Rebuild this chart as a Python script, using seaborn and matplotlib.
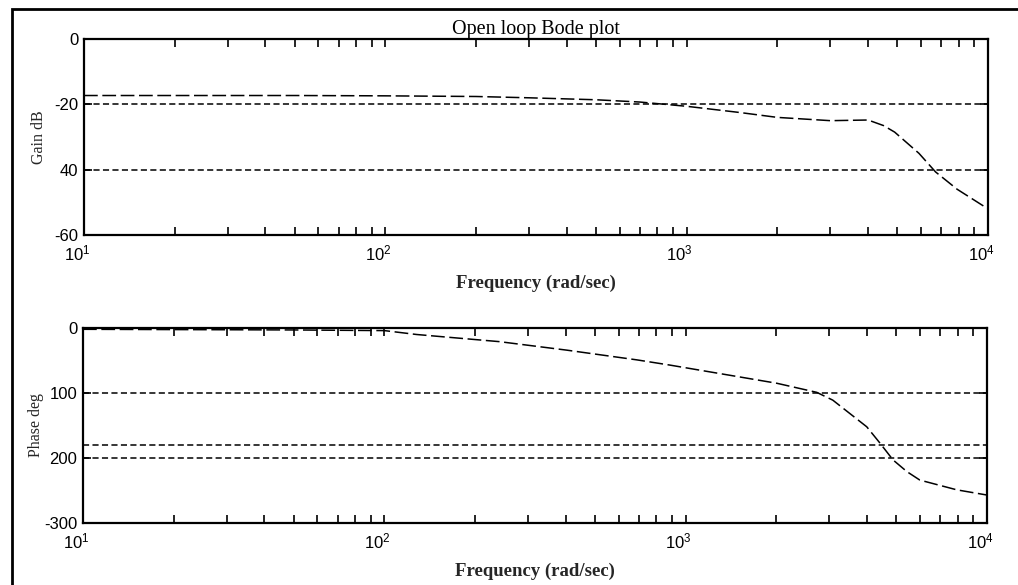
import numpy as np
import pandas as pd
import matplotlib
matplotlib.use("Agg")
import matplotlib.pyplot as plt
import seaborn as sns
from matplotlib.ticker import LogLocator, NullFormatter, FixedLocator
from matplotlib.patches import Rectangle
from matplotlib.transforms import ScaledTranslation

# Open-loop gain response (rad/sec, dB)
gain_freq = [10, 50, 100, 200, 300, 500, 700, 1000, 1500, 2000, 3000,
             4000, 4500, 4900, 5900, 6700, 7900, 10000]
gain_db = [-17.3, -17.3, -17.4, -17.6, -18.0, -18.6, -19.3, -20.6, -22.5,
           -24.0, -25.0, -24.8, -26.5, -28.5, -35.0, -40.7, -46.0, -52.0]

# Open-loop phase response (rad/sec, degrees)
phase_freq = [10, 50, 100, 128, 161, 241, 402, 688, 885, 2006, 2723, 3078,
              3990, 4412, 4878, 5424, 5987, 7943, 10000]
phase_deg = [-2, -3, -4, -10, -14, -21, -34, -49, -57, -85, -99, -111,
             -152, -177, -203, -221, -234, -249, -257]

# Dashed reference levels
gain_levels = [-20, -40]
phase_levels = [-100, -180, -200]

# Axis ticks and labels
gain_ticks = [0, -20, -40, -60]
gain_ticklabels = ["0", "-20", "40", "-60"]
phase_ticks = [0, -100, -200, -300]
phase_ticklabels = ["0", "100", "200", "-300"]
decade_ticks = [10, 100, 1000, 10000]
decade_labels = [r"$10^1$", r"$10^2$", r"$10^3$", r"$10^4$"]

title_text = "Open loop Bode plot"
x_label = "Frequency (rad/sec)"
gain_label = "Gain dB"
phase_label = "Phase deg"

sns.set_theme(style="white")
plt.rcParams["font.family"] = ["Liberation Sans", "DejaVu Sans"]
plt.rcParams["mathtext.fontset"] = "custom"
plt.rcParams["mathtext.rm"] = "Liberation Sans"
plt.rcParams["mathtext.it"] = "Liberation Sans"

W, H = 1018, 585
fig = plt.figure(figsize=(W / 100, H / 100), dpi=100)
fig.patch.set_facecolor("white")

# Outer frame
fig.patches.append(Rectangle((12 / W, -0.05), 1.2, 1 - 9 / H + 0.05,
                             transform=fig.transFigure, fill=False,
                             edgecolor="black", linewidth=2.0))

ax1 = fig.add_axes([84 / W, 1 - 235 / H, 904 / W, 196 / H])
ax2 = fig.add_axes([83 / W, 1 - 523 / H, 904 / W, 195 / H])

gain_df = pd.DataFrame({"freq": gain_freq, "gain": gain_db})
phase_df = pd.DataFrame({"freq": phase_freq, "phase": phase_deg})

serif = ["Liberation Serif", "DejaVu Serif"]
dash_ref = (4, 2.2)


def style_axes(ax, ticks, ticklabels, ylim):
    ax.set_xscale("log")
    ax.set_xlim(10, 10000)
    ax.set_ylim(*ylim)
    ax.xaxis.set_major_locator(FixedLocator(decade_ticks))
    ax.set_xticklabels(decade_labels)
    ax.xaxis.set_minor_locator(LogLocator(base=10, subs=np.arange(2, 10)))
    ax.xaxis.set_minor_formatter(NullFormatter())
    ax.set_yticks(ticks)
    ax.set_yticklabels(ticklabels)
    ax.tick_params(axis="both", which="both", direction="in",
                   top=True, right=True, bottom=True, left=True,
                   colors="black", width=1.2)
    ax.tick_params(axis="y", which="major", length=6, labelsize=12, pad=4)
    ax.tick_params(axis="x", which="major", length=6, labelsize=12, pad=6)
    ax.tick_params(axis="x", which="minor", length=6)
    # decade labels sit with the base under the tick, exponent to the right
    shift = ScaledTranslation(-7 / 100, 0, fig.dpi_scale_trans)
    for lab in ax.get_xticklabels():
        lab.set_transform(lab.get_transform() + shift)
    for s in ax.spines.values():
        s.set_color("black")
        s.set_linewidth(1.6)
    ax.set_facecolor("white")
    ax.grid(False)


for lvl in gain_levels:
    ax1.axhline(lvl, color="black", linewidth=1.1, dashes=dash_ref)
sns.lineplot(data=gain_df, x="freq", y="gain", ax=ax1, color="black",
             linewidth=1.1, dashes=False)
ax1.lines[-1].set_dashes((9, 3))
style_axes(ax1, gain_ticks, gain_ticklabels, (-60, 0))
ax1.set_xlabel(x_label, family=serif, fontweight="bold", fontsize=13.5, labelpad=8)
ax1.set_ylabel(gain_label, family=serif, fontsize=11.5, labelpad=5)
ax1.set_title(title_text, family=serif, fontsize=14.5, pad=1, color="black")

for lvl in phase_levels:
    ax2.axhline(lvl, color="black", linewidth=1.1, dashes=dash_ref)
sns.lineplot(data=phase_df, x="freq", y="phase", ax=ax2, color="black",
             linewidth=1.1, dashes=False)
ax2.lines[-1].set_dashes((9, 3))
style_axes(ax2, phase_ticks, phase_ticklabels, (-300, 0))
ax2.set_xlabel(x_label, family=serif, fontweight="bold", fontsize=13.5, labelpad=8)
ax2.set_ylabel(phase_label, family=serif, fontsize=11.5, labelpad=0)

fig.savefig("out.png", dpi=100, facecolor="white")
